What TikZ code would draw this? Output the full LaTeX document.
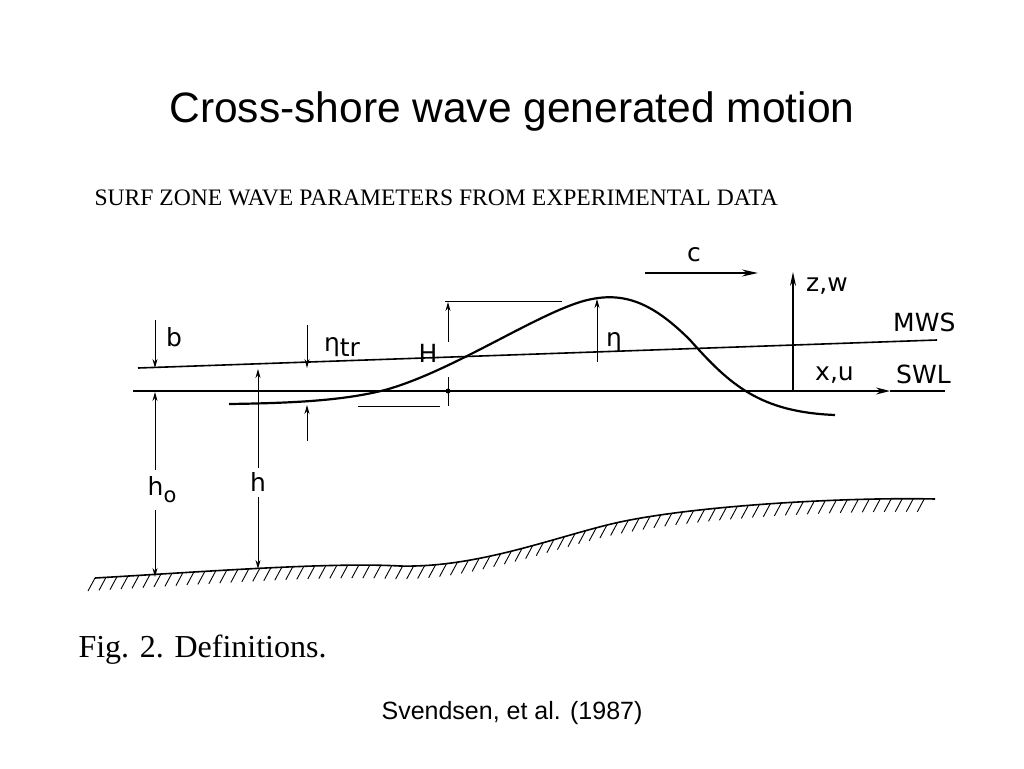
\documentclass[tikz,border=0pt]{standalone}
\usepackage{fontspec}
\setmainfont{Liberation Serif}
\setsansfont{Liberation Sans}
\newfontfamily\hand{DejaVu Sans}
\usetikzlibrary{decorations.markings,arrows.meta}
\begin{document}
\begin{tikzpicture}[x=1pt,y=-1pt,
  ln/.style={line width=1.6pt},
  thin/.style={line width=1pt},
  ar/.style={line width=1pt,-{Stealth[length=9pt,width=5pt]}},
  lab/.style={font=\hand\fontsize{25}{26}\selectfont,inner sep=0pt}]
\useasboundingbox[fill=white] (0,0) rectangle (1024,768);
\node (title) at (512,112) {\sffamily\fontsize{42.5}{44}\selectfont Cross-shore wave generated motion};
\node[anchor=west] (sub) at (91,198) {\fontsize{23.6}{24}\selectfont SURF ZONE WAVE PARAMETERS FROM EXPERIMENTAL DATA};
\node[anchor=west] (fig) at (75,650) {\fontsize{32}{33}\selectfont Fig. 2. Definitions.};
\node (ref) at (512,713) {\sffamily\fontsize{25}{26}\selectfont Svendsen, et al. (1987)};
% lines
\coordinate (m0) at (138,368); \coordinate (m1) at (937,340);
\draw[ln] (m0) -- (m1);
\coordinate (s0) at (133,391); \coordinate (s1) at (890,391); \coordinate (s2) at (945,391);
\draw[ln,-{Stealth[length=14pt,width=7pt]}] (s0) -- (s1);
\draw[ln] (s1) -- (s2);
% wave
\draw[line width=2.2pt] (229,404) .. controls (300,403) and (345,400) .. (385,390)
  .. controls (450,372) and (530,318) .. (580,302)
  .. controls (620,290) and (650,300) .. (690,340)
  .. controls (730,385) and (760,412) .. (835,415);
% bed
\draw[ln,postaction={decorate,decoration={markings,
  mark=between positions 0 and 1 step 11pt with {\pgftransformresetnontranslations\draw[line width=0.9pt] (0pt,0pt) -- (-7pt,-13pt);}}}]
  (95,578) .. controls (200,572) and (330,562) .. (400,566)
  .. controls (480,568) and (560,535) .. (620,522)
  .. controls (700,505) and (850,497) .. (935,499);
% b
\draw[ar] (155,320) -- (155,368);
\node[lab] (b) at (174,337) {b};
% h_o
\draw[ar] (155,470) -- (155,392);
\draw[ar] (155,510) -- (155,577);
\node[lab] (ho) at (162,490) {h\raisebox{-7pt}{\fontsize{21}{22}\selectfont o}};
% h
\draw[ar] (258,468) -- (258,369);
\draw[ar] (258,497) -- (258,569);
\node[lab] (h) at (258,482) {h};
% eta_tr
\draw[ar] (307,325) -- (307,368);
\draw[ar] (307,441) -- (307,405);
\node[lab] (etr) at (342,347) {η\raisebox{-5pt}{tr}};
% H
\draw[thin] (445,301) -- (562,301);
\draw[ar] (448,342) -- (448,302);
\draw[thin] (358,406) -- (440,406);
\draw[thin] (448,377) -- (448,406);
\fill (448,391) circle (2.5pt);
\node[lab] (H) at (428,353) {H};
% eta
\draw[ar] (597,362) -- (597,299);
\node[lab] (eta) at (614,342) {η};
% c
\draw[line width=1.4pt,-{Stealth[length=16pt,width=7pt]}] (645,273) -- (758,273);
\node[lab] (c) at (694,255) {c};
% z,w
\draw[line width=1.2pt,-{Stealth[length=14pt,width=6pt]}] (793,391) -- (793,272);
\node[lab,anchor=west] (zw) at (806,286) {z,w};
\node[lab,anchor=west] (xu) at (815,375) {x,u};
\node[lab,anchor=west] (mws) at (893,322) {MWS};
\node[lab,anchor=west] (swl) at (896,374) {SWL};
\end{tikzpicture}
\end{document}
